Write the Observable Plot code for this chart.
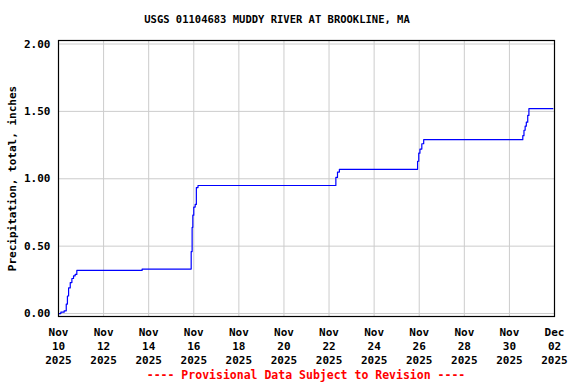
<!DOCTYPE html>
<html>
<head>
<meta charset="utf-8">
<script src="https://cdn.jsdelivr.net/npm/d3@7"></script>
<script src="https://cdn.jsdelivr.net/npm/@observablehq/plot@0.6"></script>
<style>
  html, body { margin: 0; padding: 0; background: #fff; }
  body { width: 576px; height: 384px; overflow: hidden; font-family: "DejaVu Sans Mono", monospace; font-weight: bold; }
  #title { height: 36px; box-sizing: border-box; padding-top: 12px; width: 554px; text-align: center; font-size: 10.5px; line-height: 14px; color: #000; white-space: pre; }
  #caption { height: 18px; margin-left: 58px; width: 496px; text-align: center; font-size: 11.5px; line-height: 18px; color: #ff0000; white-space: pre; }
  #chart svg { display: block; }
</style>
</head>
<body>
<div id="title"></div>
<div id="chart"></div>
<div id="caption"></div>
<script>
const titleText = "USGS 01104683 MUDDY RIVER AT BROOKLINE, MA";
const captionText = "---- Provisional Data Subject to Revision ----";
const yLabel = "Precipitation, total, inches";

// Observation times (UTC) and cumulative precipitation (inches)
const times = [
  "2025-11-10T00:00Z", "2025-11-10T02:30Z", "2025-11-10T06:00Z", "2025-11-10T08:15Z",
  "2025-11-10T09:30Z", "2025-11-10T10:45Z", "2025-11-10T12:30Z", "2025-11-10T14:15Z",
  "2025-11-10T16:00Z", "2025-11-10T17:45Z", "2025-11-10T19:30Z",
  "2025-11-13T17:00Z",
  "2025-11-15T21:15Z", "2025-11-15T22:15Z", "2025-11-15T23:00Z", "2025-11-16T00:00Z",
  "2025-11-16T01:30Z", "2025-11-16T02:45Z", "2025-11-16T04:30Z",
  "2025-11-22T07:15Z", "2025-11-22T09:00Z", "2025-11-22T11:00Z",
  "2025-11-25T22:15Z", "2025-11-25T23:30Z", "2025-11-26T00:45Z", "2025-11-26T02:45Z",
  "2025-11-26T04:45Z",
  "2025-11-30T14:15Z", "2025-11-30T15:30Z", "2025-11-30T16:45Z", "2025-11-30T18:00Z",
  "2025-11-30T19:30Z", "2025-11-30T20:45Z",
  "2025-12-01T22:15Z"
];
const values = [
  0.00, 0.01, 0.02, 0.07,
  0.13, 0.19, 0.23, 0.26,
  0.28, 0.29, 0.32,
  0.33,
  0.46, 0.64, 0.73, 0.79,
  0.81, 0.935, 0.95,
  1.01, 1.05, 1.07,
  1.13, 1.19, 1.22, 1.26,
  1.29,
  1.32, 1.36, 1.39, 1.42,
  1.47, 1.52,
  1.52
];

const xTicks = [
  "2025-11-10", "2025-11-12", "2025-11-14", "2025-11-16", "2025-11-18", "2025-11-20",
  "2025-11-22", "2025-11-24", "2025-11-26", "2025-11-28", "2025-11-30", "2025-12-02"
];
const yTicks = [0, 0.5, 1.0, 1.5, 2.0];

const data = times.map((t, i) => ({date: new Date(t), value: values[i]}));
const xTickDates = xTicks.map(d => new Date(d + "T00:00Z"));
const monthNames = ["Jan","Feb","Mar","Apr","May","Jun","Jul","Aug","Sep","Oct","Nov","Dec"];
const fmtX = d => `${monthNames[d.getUTCMonth()]}\n${String(d.getUTCDate()).padStart(2, "0")}\n${d.getUTCFullYear()}`;

document.getElementById("title").textContent = titleText;
document.getElementById("caption").textContent = captionText;

const chart = Plot.plot({
  width: 576,
  height: 330,
  marginTop: 4,
  marginBottom: 50,
  marginLeft: 58,
  marginRight: 22,
  style: {fontFamily: "'DejaVu Sans Mono', monospace", fontSize: "11px", fontWeight: "bold", color: "#000", background: "#fff"},
  x: {type: "utc", domain: [xTickDates[0], xTickDates[xTickDates.length - 1]]},
  y: {domain: [-0.022, 2.026]},
  marks: [
    Plot.gridX(xTickDates, {stroke: "#cccccc", strokeOpacity: 1, strokeWidth: 1}),
    Plot.gridY(yTicks, {stroke: "#cccccc", strokeOpacity: 1, strokeWidth: 1}),
    Plot.line(data, {x: "date", y: "value", curve: "step-after", stroke: "#0000ff", strokeWidth: 1.2}),
    Plot.frame({stroke: "#000", strokeWidth: 1.2}),
    Plot.axisY({ticks: yTicks, tickFormat: d3.format(".2f"), tickSize: 0, tickPadding: 8, label: null, fontWeight: "bold"}),
    Plot.axisX({ticks: xTickDates, tickFormat: fmtX, tickSize: 0, tickPadding: 10, label: null, lineHeight: 1.27, fontWeight: "bold"}),
    Plot.text([yLabel], {text: d => d, frameAnchor: "left", dx: -46, rotate: -90, textAnchor: "middle", fontWeight: "bold", fill: "#000"})
  ]
});
document.getElementById("chart").appendChild(chart);
</script>
</body>
</html>
